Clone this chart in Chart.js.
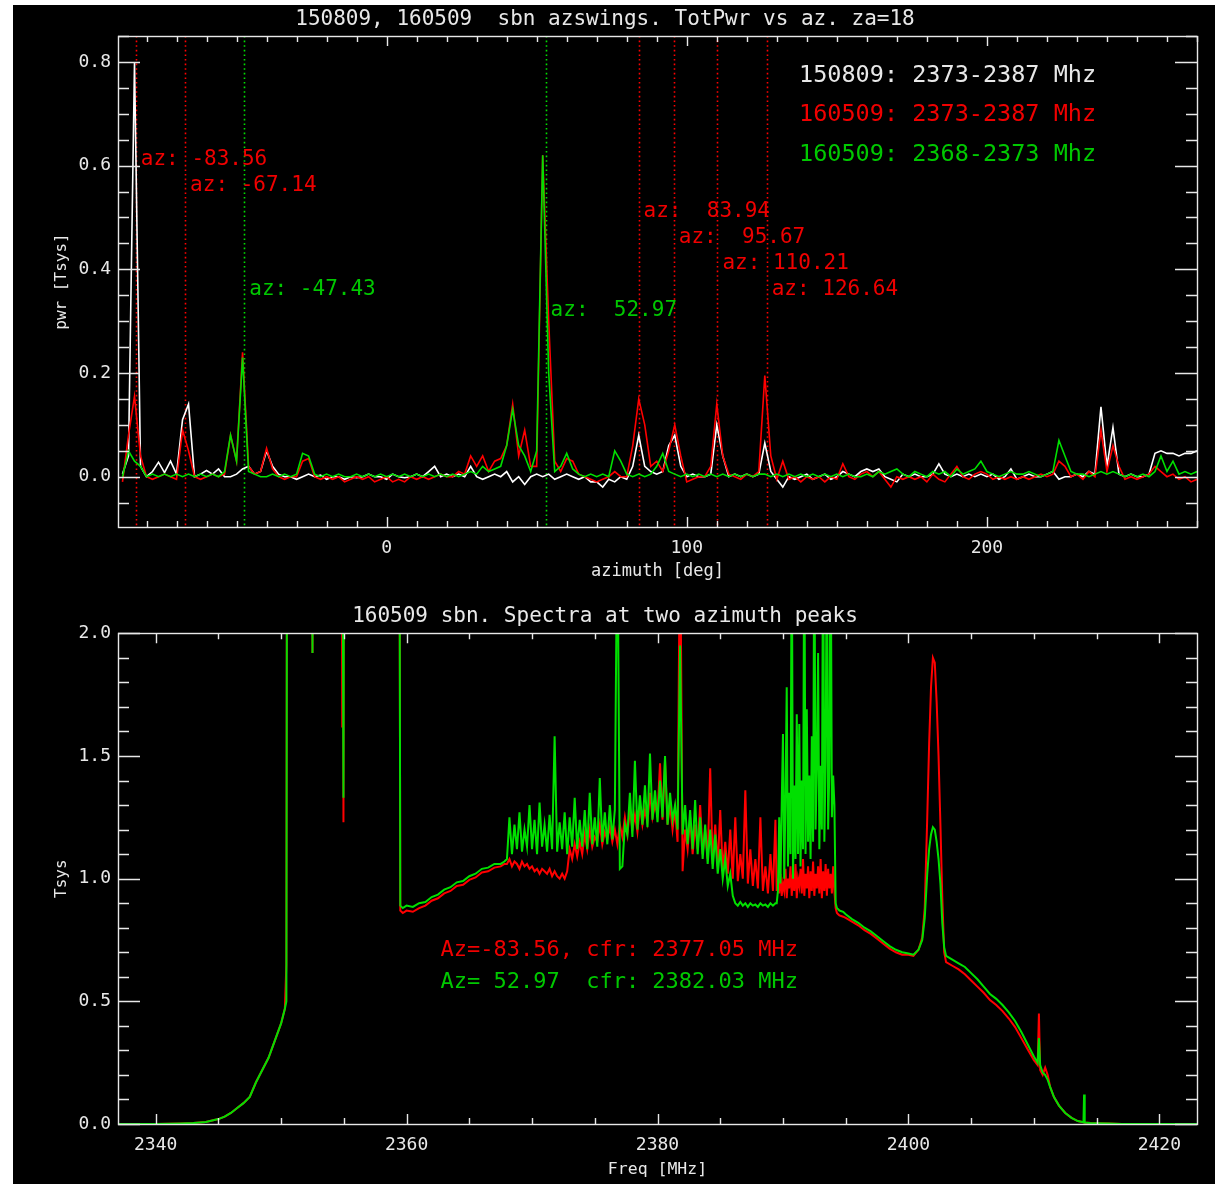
<!DOCTYPE html>
<html><head><meta charset="utf-8">
<script src="https://cdn.jsdelivr.net/npm/chart.js@4.4.1/dist/chart.umd.min.js"></script>
<style>
html,body{margin:0;padding:0;background:#fff;width:1215px;height:1184px;overflow:hidden}
#panel{position:absolute;left:13px;top:5px;width:1202px;height:1179px;background:#000}
canvas{position:absolute;left:0}
#c1{top:0}
#c2{top:590px}
</style></head><body>
<div id="panel"><canvas id="c1" width="1202" height="590"></canvas><canvas id="c2" width="1202" height="589"></canvas></div>
<script>
// ---------------- DATA: top panel (total power vs azimuth) ----------------
const TITLE_TOP = '150809, 160509  sbn azswings. TotPwr vs az. za=18';
const SERIES_TOP = ['150809: 2373-2387 Mhz', '160509: 2373-2387 Mhz', '160509: 2368-2373 Mhz'];
const AZ = [
-88,-86,-84,-82,-80,-78,-76,-74,-72,-70,
-68,-66,-64,-62,-60,-58,-56,-54,-52,-50,
-48,-46,-44,-42,-40,-38,-36,-34,-32,-30,
-28,-26,-24,-22,-20,-18,-16,-14,-12,-10,
-8,-6,-4,-2,0,2,4,6,8,10,
12,14,16,18,20,22,24,26,28,30,
32,34,36,38,40,42,44,46,48,50,
52,54,56,58,60,62,64,66,68,70,
72,74,76,78,80,82,84,86,88,90,
92,94,96,98,100,102,104,106,108,110,
112,114,116,118,120,122,124,126,128,130,
132,134,136,138,140,142,144,146,148,150,
152,154,156,158,160,162,164,166,168,170,
172,174,176,178,180,182,184,186,188,190,
192,194,196,198,200,202,204,206,208,210,
212,214,216,218,220,222,224,226,228,230,
232,234,236,238,240,242,244,246,248,250,
252,254,256,258,260,262,264,266,268,270];
const PWR_150809 = [
0.005,0.04,0.80,0.02,0.0,0.01,0.028,0.008,0.03,0.005,
0.11,0.14,0.0,0.005,0.012,0.005,0.015,0.0,0.0,0.005,
0.015,0.02,0.005,0.01,0.05,0.02,0.005,0.0,0.0,-0.005,
0.0,0.005,0.0,0.003,-0.005,0.0,0.0,-0.005,0.0,-0.002,
0.0,0.005,0.0,0.0,-0.005,0.005,0.0,-0.002,0.0,0.005,
0.0,0.01,0.02,0.0,0.005,0.0,0.005,0.0,0.02,0.0,
-0.005,0.0,0.005,0.0,0.01,-0.01,0.0,-0.015,0.0,0.005,
0.0,0.005,-0.005,0.0,0.005,0.0,-0.005,0.0,-0.01,-0.01,
-0.02,-0.005,-0.01,0.0,-0.005,0.02,0.08,0.02,0.01,0.005,
0.01,0.06,0.08,0.02,0.0,0.005,0.0,0.0,0.005,0.1,
0.04,0.0,0.005,0.0,0.005,0.0,0.005,0.065,0.01,-0.005,
-0.02,0.0,-0.005,0.0,0.005,-0.005,0.0,0.005,-0.005,0.0,
0.01,0.005,0.0,0.01,0.015,0.01,0.015,0.0,-0.005,-0.01,
0.005,0.0,0.005,0.0,0.0,0.005,0.025,0.005,0.0,0.005,
0.0,0.005,0.0,0.005,0.0,0.005,-0.005,0.0,0.015,-0.005,
0.0,0.005,0.0,0.0,0.005,0.01,-0.005,0.0,0.0,0.005,
0.0,0.01,0.005,0.135,0.02,0.095,0.005,0.0,0.005,0.0,
0.0,0.005,0.045,0.05,0.045,0.045,0.04,0.045,0.045,0.05];
const PWR_160509_A = [
-0.01,0.08,0.155,0.04,0.0,-0.005,0.0,0.005,0.0,-0.005,
0.09,0.05,0.0,-0.005,0.0,0.005,0.0,0.005,0.08,0.03,
0.24,0.02,0.005,0.01,0.055,0.015,0.0,-0.005,0.0,0.0,
0.03,0.035,0.0,-0.005,0.0,-0.005,0.0,-0.01,-0.005,0.0,
-0.005,0.0,-0.01,-0.005,0.0,-0.01,-0.005,-0.01,0.0,-0.005,
0.0,-0.005,0.0,0.005,0.0,0.0,0.01,0.005,0.04,0.02,
0.04,0.01,0.03,0.035,0.06,0.14,0.04,0.09,0.02,0.02,
0.62,0.3,0.03,0.01,0.035,0.03,0.005,0.0,-0.005,-0.01,
-0.005,0.0,0.01,0.0,0.0,0.06,0.15,0.1,0.02,0.03,
0.01,0.05,0.1,0.04,-0.01,-0.005,0.0,0.0,0.02,0.14,
0.04,0.005,0.0,-0.005,0.005,0.0,0.01,0.195,0.04,-0.005,
0.03,-0.005,0.0,-0.01,0.0,-0.005,0.0,-0.01,0.0,-0.005,
0.025,0.0,-0.005,0.005,0.01,0.0,0.01,-0.005,-0.02,0.0,
-0.005,0.0,-0.005,0.0,-0.01,0.005,-0.005,-0.01,0.005,0.02,
0.0,-0.005,0.005,0.01,0.005,-0.005,0.0,-0.005,0.0,-0.005,
0.0,-0.005,0.0,0.005,0.0,0.005,0.03,0.02,0.0,0.005,
-0.005,0.01,0.0,0.09,0.01,0.06,0.02,-0.005,0.0,-0.005,
0.0,0.005,0.02,0.01,0.0,0.005,-0.005,0.0,-0.01,-0.005];
const PWR_160509_B = [
0.0,0.05,0.03,0.02,0.0,0.005,0.0,0.005,0.0,0.005,
0.0,0.005,0.0,0.005,0.0,0.005,0.0,0.01,0.08,0.03,
0.23,0.01,0.005,0.0,0.0,0.005,0.0,0.005,0.0,0.005,
0.045,0.04,0.005,0.0,0.005,0.0,0.005,0.0,0.0,0.005,
0.0,0.005,0.0,0.005,0.0,0.005,0.0,0.005,0.0,0.005,
0.0,0.005,0.0,0.005,0.0,0.005,0.0,0.005,0.01,0.005,
0.02,0.01,0.015,0.02,0.06,0.13,0.06,0.04,0.01,0.05,
0.62,0.2,0.01,0.02,0.045,0.015,0.005,0.0,0.005,0.0,
0.005,0.0,0.05,0.03,0.005,0.0,0.005,0.0,0.005,0.02,
0.045,0.01,0.005,0.0,0.005,0.0,0.005,0.0,0.005,0.0,
0.005,0.0,0.005,0.0,0.005,0.0,0.005,0.005,0.0,0.005,
0.0,0.005,0.0,0.005,0.0,0.005,0.0,0.005,0.0,0.005,
0.0,0.005,0.0,0.0,0.005,0.0,0.01,0.005,0.01,0.015,
0.005,0.0,0.01,0.005,0.0,0.01,0.005,0.01,0.0,0.015,
0.005,0.01,0.015,0.03,0.01,0.005,0.0,0.005,0.01,0.005,
0.005,0.01,0.005,0.0,0.005,0.01,0.07,0.04,0.01,0.005,
0.005,0.0,0.005,0.01,0.005,0.01,0.005,0.0,0.005,0.0,
0.005,0.0,0.01,0.04,0.01,0.03,0.005,0.01,0.005,0.01];
const AZ_MARKS = [-83.56, -67.14, -47.43, 52.97, 83.94, 95.67, 110.21, 126.64];
const AZ_MARK_SERIES = [1, 1, 2, 2, 1, 1, 1, 1];
const AZ_MARK_LABEL_Y = [0.615, 0.565, 0.365, 0.325, 0.515, 0.465, 0.415, 0.365];
const TOP_X_TICKS = [0, 100, 200];
const TOP_Y_TICKS = [0.0, 0.2, 0.4, 0.6, 0.8];

// ---------------- DATA: bottom panel (spectra) ----------------
const TITLE_BOT = '160509 sbn. Spectra at two azimuth peaks';
const SERIES_BOT = ['Az=-83.56, cfr: 2377.05 MHz', 'Az= 52.97  cfr: 2382.03 MHz'];
const FREQ_A = [2337,2340,2342,2343,2344,2345,2345.5,2346,2346.5,2347,
2347.5,2348,2348.5,2349,2349.5,2350,2350.3,2350.42,2350.48,2351,
2352,2352.45,2352.5,2352.55,2353,2354,2354.82,2354.87,2354.92,2354.97,
2355.02,2356,2357,2358,2359,2359.42,2359.5,2359.7,2360,2360.5,
2361,2361.5,2362,2362.5,2363,2363.5,2364,2364.5,2365,2365.5,
2366,2366.5,2367,2367.5,2367.8];
const TSYS_RED_A = [0,0,0.002,0.004,0.008,0.02,0.03,0.045,0.065,0.085,
0.11,0.17,0.22,0.27,0.34,0.41,0.47,0.65,3,3,
3,3,1.92,3,3,3,3,1.62,3,1.23,
3,3,3,3,3,3,0.87,0.86,0.87,0.865,
0.88,0.89,0.91,0.92,0.94,0.95,0.97,0.975,0.995,1.005,
1.025,1.03,1.045,1.05,1.06];
const TSYS_GREEN_A = [0,0,0.002,0.004,0.008,0.02,0.03,0.045,0.065,0.085,
0.11,0.17,0.22,0.27,0.34,0.41,0.47,0.5,3,3,
3,3,1.92,3,3,3,3,3,3,1.33,
3,3,3,3,3,3,0.89,0.88,0.89,0.885,
0.9,0.905,0.925,0.935,0.955,0.965,0.985,0.99,1.01,1.02,
1.04,1.045,1.06,1.06,1.07];
const FREQ_B = [
2368,2368.2,2368.4,2368.6,2368.8,2369,2369.2,2369.4,2369.6,2369.8,
2370,2370.2,2370.4,2370.6,2370.8,2371,2371.2,2371.4,2371.6,2371.8,
2372,2372.2,2372.4,2372.6,2372.8,2373,2373.2,2373.4,2373.6,2373.8,
2374,2374.2,2374.4,2374.6,2374.8,2375,2375.2,2375.4,2375.6,2375.8,
2376,2376.2,2376.4,2376.6,2376.8,2377,2377.2,2377.4,2377.6,2377.8,
2378,2378.2,2378.4,2378.6,2378.8,2379,2379.2,2379.4,2379.6,2379.8,
2380,2380.2,2380.4,2380.6,2380.8,2381,2381.2,2381.4,2381.6,2381.8,
2382,2382.2,2382.4,2382.6,2382.8,2383,2383.2,2383.4,2383.6,2383.8,
2384,2384.2,2384.4,2384.6,2384.8,2385,2385.2,2385.4,2385.6,2385.8,
2386,2386.2,2386.4,2386.6,2386.8,2387,2387.2,2387.4,2387.6,2387.8,
2388,2388.2,2388.4,2388.6,2388.8,2389,2389.2,2389.4];
const TSYS_RED_B = [
1.06,1.08,1.05,1.07,1.06,1.04,1.07,1.05,1.06,1.04,
1.05,1.03,1.04,1.02,1.04,1.03,1.02,1.04,1.01,1.03,
1.01,1.00,1.02,1.00,1.03,1.12,1.08,1.14,1.09,1.15,
1.10,1.18,1.12,1.20,1.13,1.17,1.15,1.22,1.14,1.19,
1.16,1.21,1.15,1.20,1.14,1.22,1.17,1.25,1.18,1.28,
1.20,1.26,1.19,1.30,1.22,1.28,1.23,1.35,1.25,1.30,
1.26,1.47,1.24,1.48,1.22,1.30,1.20,1.28,1.15,2.5,
1.03,1.20,1.12,1.25,1.10,1.22,1.12,1.30,1.10,1.20,
1.08,1.45,1.06,1.22,1.05,1.28,1.03,1.15,1.02,1.20,
1.00,1.25,0.99,1.10,1.00,1.36,0.98,1.12,0.97,1.08,
0.96,1.25,0.95,1.05,0.94,1.10,0.95,1.24];
const TSYS_GREEN_B = [
1.08,1.25,1.10,1.22,1.12,1.27,1.11,1.20,1.13,1.30,
1.12,1.24,1.10,1.31,1.13,1.22,1.11,1.26,1.12,1.58,
1.11,1.23,1.12,1.27,1.10,1.25,1.13,1.33,1.12,1.24,
1.13,1.28,1.12,1.35,1.14,1.25,1.13,1.41,1.15,1.27,
1.14,1.30,1.16,1.28,2.5,1.04,1.05,1.22,1.18,1.35,
1.17,1.48,1.20,1.34,1.22,1.38,1.21,1.51,1.24,1.36,
1.23,1.40,1.25,1.50,1.22,1.35,1.24,1.30,1.20,1.95,
1.18,1.30,1.14,1.28,1.12,1.32,1.10,1.25,1.08,1.22,
1.06,1.20,1.04,1.18,1.02,1.12,1.00,1.08,0.97,1.02,
0.93,0.90,0.89,0.905,0.89,0.90,0.885,0.90,0.89,0.895,
0.885,0.90,0.89,0.895,0.885,0.90,0.89,0.90];
const FREQ_B2 = [
2389.5,2389.6,2389.7,2389.8,2389.9,2390,2390.1,2390.2,2390.3,2390.4,
2390.5,2390.6,2390.7,2390.8,2390.9,2391,2391.1,2391.2,2391.3,2391.4,
2391.5,2391.6,2391.7,2391.8,2391.9,2392,2392.1,2392.2,2392.3,2392.4,
2392.5,2392.6,2392.7,2392.8,2392.9,2393,2393.1,2393.2,2393.3,2393.4,
2393.5,2393.6,2393.7,2393.8,2393.9,2394,2394.1,2394.2,2394.3,2394.4,
2394.5];
const TSYS_RED_B2 = [
0.95,1.0,0.94,1.02,0.93,0.98,0.95,1.04,0.92,1.0,
0.96,1.05,0.93,1.02,0.95,1.06,0.92,1.0,0.97,1.04,
0.94,1.08,0.93,1.02,0.96,1.05,0.92,1.03,0.95,1.07,
0.93,1.02,0.96,1.05,0.94,1.08,0.92,1.03,0.95,1.06,
0.93,1.04,0.96,1.02,0.94,1.05,0.95,0.88,0.86,0.855,
0.85];
const TSYS_GREEN_B2 = [
0.90,0.95,1.25,0.98,1.30,1.59,1.00,1.32,1.78,1.05,
1.35,1.10,2.5,1.00,1.38,1.08,1.67,1.10,1.63,1.05,
1.40,1.12,2.5,1.10,1.69,1.15,1.42,1.08,1.58,1.15,
2.5,1.20,1.45,1.92,1.12,1.46,1.20,2.5,1.15,1.48,
2.5,1.20,1.45,2.5,1.25,1.42,1.30,0.90,0.88,0.875,
0.87];
const FREQ_C = [2394.8,2395,2395.5,2396,2396.5,2397,2397.5,2398,2398.5,2399,
2399.5,2400,2400.4,2400.8,2401.1,2401.3,2401.5,2401.65,2401.8,2401.95,
2402.1,2402.25,2402.4,2402.55,2402.7,2402.85,2403,2403.5,2404,2404.5,
2405,2405.5,2406,2406.5,2407,2407.5,2408,2408.5,2409,2409.5,
2410,2410.3,2410.4,2410.5,2410.7,2410.9,2411.1,2411.3,2411.6,2412,
2412.5,2413,2413.5,2413.95,2414,2414.05,2414.5,2415,2416,2417,
2418,2423];
const TSYS_RED_C = [0.845,0.84,0.825,0.81,0.79,0.775,0.755,0.735,0.715,0.70,
0.69,0.69,0.685,0.71,0.76,0.88,1.25,1.55,1.78,1.9,
1.88,1.72,1.5,1.22,0.92,0.7,0.66,0.645,0.63,0.61,
0.585,0.56,0.535,0.505,0.485,0.46,0.43,0.395,0.35,0.305,
0.26,0.24,0.45,0.22,0.2,0.23,0.2,0.15,0.11,0.075,
0.045,0.025,0.012,0.007,0.007,0.006,0.004,0.003,0.002,0.0,
0.0,0.0];
const TSYS_GREEN_C = [0.865,0.855,0.835,0.82,0.80,0.785,0.765,0.745,0.725,0.71,
0.70,0.695,0.69,0.71,0.75,0.84,1.02,1.12,1.18,1.21,
1.2,1.15,1.08,0.98,0.82,0.72,0.685,0.67,0.655,0.64,
0.615,0.59,0.56,0.53,0.51,0.485,0.455,0.42,0.375,0.325,
0.275,0.25,0.35,0.24,0.21,0.2,0.18,0.15,0.11,0.075,
0.045,0.025,0.012,0.007,0.12,0.006,0.004,0.003,0.002,0.0,
0.0,0.0];
const BOT_X_TICKS = [2340, 2360, 2380, 2400, 2420];
const BOT_Y_TICKS = [0.0, 0.5, 1.0, 1.5, 2.0];
const BOT_LABEL_AT = [2362.7, 0.715, 0.585];

// ---------------- STYLE ----------------
const FONT = "'DejaVu Sans Mono', 'Liberation Mono', monospace";
const FG = '#e8e8e8';
const LINE_COLORS = ['#ffffff', '#ff0000', '#00e000'];
const TEXT_COLORS = ['#e8e8e8', '#f00000', '#00c800'];

const pts = (xs, ys) => xs.map((x, i) => ({x, y: ys[i]}));

const idlAxes = {
  id: 'idlAxes',
  afterDraw(chart, args, o) {
    const {ctx, chartArea: a, scales: {x, y}} = chart;
    ctx.save();
    ctx.strokeStyle = FG;
    ctx.lineWidth = 1.4;
    ctx.beginPath();
    const minor = (sc, step) => {
      const out = [];
      for (let v = Math.ceil(sc.min / step) * step; v <= sc.max + 1e-9; v += step) out.push(v);
      return out;
    };
    const isMajor = (v, majors) => majors.some(m => Math.abs(m - v) < 1e-6);
    for (const v of minor(x, o.xMinor)) {
      const px = Math.round(x.getPixelForValue(v)) + 0.5;
      const len = isMajor(v, o.xMajor) ? o.xMajLen : o.xMinLen;
      ctx.moveTo(px, a.bottom); ctx.lineTo(px, a.bottom - len);
      ctx.moveTo(px, a.top); ctx.lineTo(px, a.top + len);
    }
    for (const v of minor(y, o.yMinor)) {
      const py = Math.round(y.getPixelForValue(v)) + 0.5;
      const len = isMajor(v, o.yMajor) ? o.yMajLen : o.yMinLen;
      ctx.moveTo(a.left, py); ctx.lineTo(a.left + len, py);
      ctx.moveTo(a.right, py); ctx.lineTo(a.right - len, py);
    }
    ctx.stroke();
    ctx.strokeRect(Math.round(a.left) + 0.5, Math.round(a.top) + 0.5, Math.round(a.right - a.left), Math.round(a.bottom - a.top));
    ctx.restore();
  }
};

const topOverlay = {
  id: 'topOverlay',
  beforeDatasetsDraw(chart) {
    const {ctx, chartArea: a, scales: {x}} = chart;
    ctx.save();
    ctx.lineWidth = 1.6;
    ctx.setLineDash([1.6, 3]);
    AZ_MARKS.forEach((az, i) => {
      const px = Math.round(x.getPixelForValue(az)) + 0.5;
      ctx.strokeStyle = LINE_COLORS[AZ_MARK_SERIES[i]];
      ctx.beginPath(); ctx.moveTo(px, a.top); ctx.lineTo(px, a.bottom); ctx.stroke();
    });
    ctx.restore();
  },
  afterDatasetsDraw(chart) {
    const {ctx, chartArea: a, scales: {x, y}} = chart;
    ctx.save();
    ctx.textAlign = 'left';
    ctx.textBaseline = 'middle';
    ctx.font = '21px ' + FONT;
    AZ_MARKS.forEach((az, i) => {
      ctx.fillStyle = TEXT_COLORS[AZ_MARK_SERIES[i]];
      ctx.fillText('az: ' + az.toFixed(2).padStart(6, ' '), x.getPixelForValue(az) + 5, y.getPixelForValue(AZ_MARK_LABEL_Y[i]) + 2);
    });
    ctx.font = '23.5px ' + FONT;
    chart.data.datasets.forEach((ds, i) => {
      ctx.fillStyle = TEXT_COLORS[i];
      ctx.fillText(ds.label, a.left + 681, a.top + 39.5 + 39.7 * i);
    });
    ctx.restore();
  }
};

const botOverlay = {
  id: 'botOverlay',
  afterDatasetsDraw(chart) {
    const {ctx, scales: {x, y}} = chart;
    ctx.save();
    ctx.textAlign = 'left';
    ctx.textBaseline = 'middle';
    ctx.font = '22px ' + FONT;
    chart.data.datasets.forEach((ds, i) => {
      ctx.fillStyle = TEXT_COLORS[i + 1];
      ctx.fillText(ds.label, x.getPixelForValue(BOT_LABEL_AT[0]), y.getPixelForValue(BOT_LABEL_AT[i + 1]) + 2);
    });
    ctx.restore();
  }
};

function axis(opts) {
  return {
    type: 'linear', min: opts.min, max: opts.max,
    afterBuildTicks: s => { s.ticks = opts.ticks.map(v => ({value: v})); },
    afterFit: opts.fit,
    grid: {display: false, drawTicks: false, tickLength: 0}, border: {display: false},
    ticks: {color: FG, font: {family: FONT, size: 18}, padding: opts.pad, maxRotation: 0, autoSkip: false, callback: opts.fmt},
    title: {display: true, text: opts.title, color: FG, font: {family: FONT, size: opts.tsize}, padding: opts.tpad}
  };
}

Chart.defaults.font.family = FONT;

new Chart(document.getElementById('c1'), {
  type: 'line',
  data: {datasets: [
    {label: SERIES_TOP[0], data: pts(AZ, PWR_150809), borderColor: LINE_COLORS[0], order: 3},
    {label: SERIES_TOP[1], data: pts(AZ, PWR_160509_A), borderColor: LINE_COLORS[1], order: 2},
    {label: SERIES_TOP[2], data: pts(AZ, PWR_160509_B), borderColor: LINE_COLORS[2], order: 1}
  ].map(d => Object.assign(d, {borderWidth: 1.6, pointRadius: 0, tension: 0, fill: false}))},
  options: {
    responsive: false, animation: false, events: [],
    layout: {padding: {left: 0, right: 18, top: 0, bottom: 0}},
    plugins: {
      legend: {display: false}, tooltip: {enabled: false},
      title: {display: true, text: TITLE_TOP, color: FG, font: {family: FONT, size: 21, weight: 'normal'}, padding: {top: 1.6, bottom: 4.2}},
      idlAxes: {xMajor: TOP_X_TICKS, xMinor: 10, xMajLen: 10, xMinLen: 6, yMajor: TOP_Y_TICKS, yMinor: 0.05, yMajLen: 22, yMinLen: 11}
    },
    scales: {
      x: axis({min: -89.5, max: 270, ticks: TOP_X_TICKS, fit: s => { s.height = 68; }, pad: 11, fmt: v => String(v), title: 'azimuth [deg]', tsize: 17, tpad: {top: 0, bottom: 12.8}}),
      y: axis({min: -0.097, max: 0.85, ticks: TOP_Y_TICKS, fit: s => { s.width = 105; }, pad: 7, fmt: v => v.toFixed(1), title: 'pwr [Tsys]', tsize: 16, tpad: {top: 39, bottom: 0}})
    }
  },
  plugins: [idlAxes, topOverlay]
});

const FREQ_ALL = FREQ_A.concat(FREQ_B, FREQ_B2, FREQ_C);
new Chart(document.getElementById('c2'), {
  type: 'line',
  data: {datasets: [
    {label: SERIES_BOT[0], data: pts(FREQ_ALL, TSYS_RED_A.concat(TSYS_RED_B, TSYS_RED_B2, TSYS_RED_C)), borderColor: LINE_COLORS[1], order: 2},
    {label: SERIES_BOT[1], data: pts(FREQ_ALL, TSYS_GREEN_A.concat(TSYS_GREEN_B, TSYS_GREEN_B2, TSYS_GREEN_C)), borderColor: LINE_COLORS[2], order: 1}
  ].map(d => Object.assign(d, {borderWidth: 2, pointRadius: 0, tension: 0, fill: false}))},
  options: {
    responsive: false, animation: false, events: [],
    layout: {padding: {left: 0, right: 18, top: 0, bottom: 0}},
    plugins: {
      legend: {display: false}, tooltip: {enabled: false},
      title: {display: true, text: TITLE_BOT, color: FG, font: {family: FONT, size: 21, weight: 'normal'}, padding: {top: 8.6, bottom: 4.5}},
      idlAxes: {xMajor: BOT_X_TICKS, xMinor: 5, xMajLen: 10, xMinLen: 6, yMajor: BOT_Y_TICKS, yMinor: 0.1, yMajLen: 22, yMinLen: 11}
    },
    scales: {
      x: axis({min: 2337, max: 2423, ticks: BOT_X_TICKS, fit: s => { s.height = 60; }, pad: 10.5, fmt: v => String(v), title: 'Freq [MHz]', tsize: 16.5, tpad: {top: 0, bottom: 4.1}}),
      y: axis({min: 0, max: 2.0, ticks: BOT_Y_TICKS, fit: s => { s.width = 105; }, pad: 7, fmt: v => v.toFixed(1), title: 'Tsys', tsize: 16, tpad: {top: 39, bottom: 0}})
    }
  },
  plugins: [idlAxes, botOverlay]
});
</script>
</body></html>
